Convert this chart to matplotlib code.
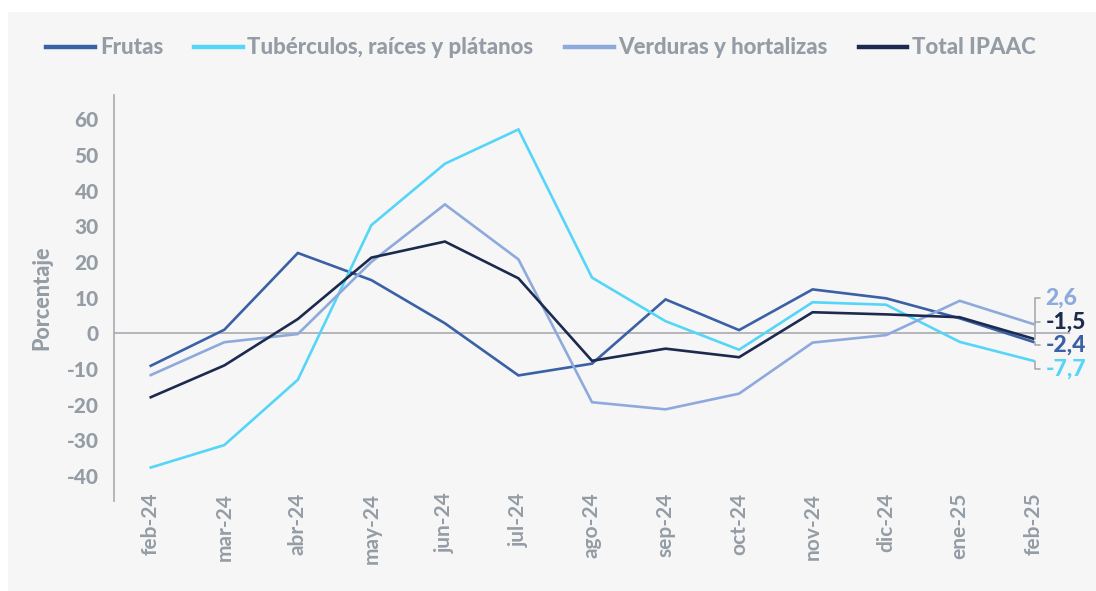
import matplotlib
matplotlib.use('Agg')
import matplotlib.pyplot as plt
from matplotlib import font_manager
from matplotlib.patches import Rectangle

# Datos del gráfico (variación anual, %)
meses = ['feb-24', 'mar-24', 'abr-24', 'may-24', 'jun-24', 'jul-24', 'ago-24',
         'sep-24', 'oct-24', 'nov-24', 'dic-24', 'ene-25', 'feb-25']
frutas = [-9.1, 1.0, 22.5, 14.9, 2.8, -11.8, -8.5, 9.5, 0.9, 12.3, 9.8, 4.2, -2.4]
tuberculos = [-37.6, -31.3, -13.0, 30.3, 47.5, 57.1, 15.6, 3.4, -4.6, 8.7, 8.0, -2.4, -7.7]
verduras = [-11.7, -2.5, -0.2, 20.0, 36.1, 20.7, -19.3, -21.3, -16.9, -2.6, -0.5, 9.1, 2.6]
total = [-17.9, -9.0, 4.0, 21.2, 25.7, 15.4, -7.7, -4.3, -6.7, 5.9, 5.3, 4.5, -1.5]
yticks = [-40, -30, -20, -10, 0, 10, 20, 30, 40, 50, 60]

# Colores
c_frutas = '#3a60a6'
c_tuber = '#55d6f8'
c_verd = '#8eaadc'
c_total = '#1c2a4f'
gris = '#949ca5'
gris_linea = '#a8abae'
fondo = '#f6f6f6'


def fuente_negrita(tam, archivo='Lato-Heavy.ttf'):
    # buscar el archivo de Lato directamente
    for f in font_manager.fontManager.ttflist:
        if f.fname.endswith(archivo):
            return font_manager.FontProperties(fname=f.fname, size=tam)
    return font_manager.FontProperties(family='DejaVu Sans', weight='bold', size=tam)


fig = plt.figure(figsize=(10.96, 5.91), dpi=100, facecolor=fondo)
# borde blanco arriba e izquierda
fig.patches.append(Rectangle((0, 1 - 12 / 591), 1, 12 / 591, transform=fig.transFigure,
                             facecolor='white', edgecolor='none'))
fig.patches.append(Rectangle((0, 0), 8 / 1096, 1, transform=fig.transFigure,
                             facecolor='white', edgecolor='none'))

ax = fig.add_axes([114 / 1096, 1 - 501 / 591, (1070 - 114) / 1096, (501 - 95) / 591])
ax.set_facecolor(fondo)

x = list(range(len(meses)))
series = [
    ('Frutas', frutas, c_frutas),
    ('Tubérculos, raíces y plátanos', tuberculos, c_tuber),
    ('Verduras y hortalizas', verduras, c_verd),
    ('Total IPAAC', total, c_total),
]
for nombre, vals, col in series:
    ax.plot(x, vals, color=col, lw=1.9, label=nombre, solid_joinstyle='miter')

ax.axhline(0, color=gris_linea, lw=1.2, zorder=0)

ax.set_xlim(-0.5, len(meses) - 0.5)
ax.set_ylim(-46.97, 66.75)
ax.set_yticks(yticks)
ax.set_yticklabels([str(v) for v in yticks], fontproperties=fuente_negrita(15), color=gris)
ax.set_xticks(x)
ax.set_xticklabels(meses, rotation=90, fontproperties=fuente_negrita(15, 'Lato-Bold.ttf'),
                   color=gris)
ax.tick_params(axis='y', length=0, pad=11)
ax.tick_params(axis='x', length=0, pad=-6)

for lado in ['top', 'right', 'bottom']:
    ax.spines[lado].set_visible(False)
ax.spines['left'].set_color(gris_linea)
ax.spines['left'].set_linewidth(1.2)

ax.set_ylabel('Porcentaje', fontproperties=fuente_negrita(15.5), color=gris, labelpad=10)

# Etiquetas del último dato
etiquetas = [
    (verduras[-1], 9.9, c_verd),
    (total[-1], 3.2, c_total),
    (frutas[-1], -3.3, c_frutas),
    (tuberculos[-1], -10.0, c_tuber),
]
for val, y_txt, col in etiquetas:
    texto = f'{val:.1f}'.replace('.', ',')
    ax.annotate(texto, xy=(12.03, val), xytext=(12.17, y_txt), textcoords='data',
                ha='left', va='center', fontproperties=fuente_negrita(16.5), color=col,
                annotation_clip=False,
                arrowprops=dict(arrowstyle='-', color=gris_linea, lw=1.2,
                                shrinkA=2, shrinkB=0, relpos=(0, 0.5),
                                connectionstyle='angle,angleA=0,angleB=90,rad=0'))

leg = fig.legend(loc='center', bbox_to_anchor=(541 / 1096, 1 - 48 / 591), ncol=4,
                 frameon=False, handlelength=2.2, handletextpad=0.2, columnspacing=1.4,
                 prop=fuente_negrita(16))
for t in leg.get_texts():
    t.set_color(gris)
for h in leg.get_lines():
    h.set_linewidth(3.2)

fig.savefig('out.png', dpi=100, facecolor=fig.get_facecolor())
